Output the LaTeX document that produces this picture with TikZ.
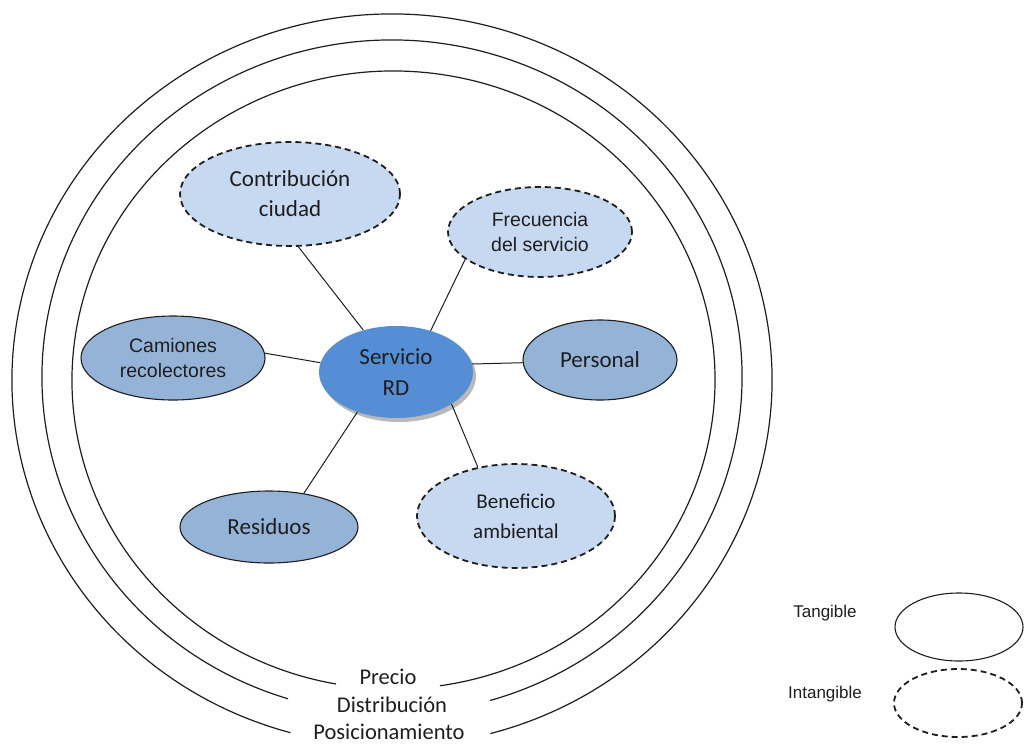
\documentclass[tikz,border=0pt]{standalone}
\usepackage{fontspec}
\setmainfont{Carlito}
\newfontfamily\arialfont{Liberation Sans}
\usetikzlibrary{shapes.geometric}

\definecolor{coreblue}{RGB}{85,142,213}
\definecolor{tanblue}{RGB}{149,179,215}
\definecolor{intblue}{RGB}{198,217,241}
\definecolor{inkgray}{RGB}{30,30,30}

\begin{document}
\begin{tikzpicture}[x=1pt,y=-1pt,
  ring/.style={line width=1.2pt, draw=inkgray},
  oval/.style={ellipse, inner sep=0pt, align=center, text=inkgray,
               font=\fontsize{23}{30}\selectfont},
  core/.style={oval, fill=coreblue, font=\fontsize{23}{31}\selectfont},
  tangible/.style={oval, draw=inkgray, line width=1.1pt, fill=tanblue},
  intangible/.style={oval, draw=inkgray, line width=1.8pt,
                     dash pattern=on 6pt off 4pt, fill=intblue},
  arialtext/.style={font=\arialfont\fontsize{19.5}{25}\selectfont},
  link/.style={line width=1pt, draw=inkgray},
  layer/.style={anchor=base, text=inkgray, font=\fontsize{22.5}{28}\selectfont},
  legendtext/.style={text=inkgray, font=\arialfont\fontsize{17}{20}\selectfont},
  legendoval/.style={ellipse, inner sep=0pt, draw=inkgray, line width=1.1pt,
                     minimum width=128pt, minimum height=68pt}
]
\useasboundingbox (0,0) rectangle (1025,745);
\clip (0,0) rectangle (1025,745);

% three open rings around the product, gaps at the bottom for the layer names
\draw[ring] (392,380) ++(105.5:380 and 366)
  arc[start angle=105.5, end angle=435, x radius=380, y radius=366];
\draw[ring] (392,377) ++(107.3:350 and 337)
  arc[start angle=107.3, end angle=433.7, x radius=350, y radius=337];
\draw[ring] (393.5,380) ++(100.3:321.5 and 309)
  arc[start angle=100.3, end angle=441.7, x radius=321.5, y radius=309];

% layer names
\node[layer] (precio) at (388,684) {Precio};
\node[layer] (distrib) at (392,712) {Distribución};
\node[layer] (posic) at (389,739) {Posicionamiento};

% core service with a soft shadow
\fill[gray!55] (399,376) ellipse [x radius=77, y radius=46];
\node[core, minimum width=154pt, minimum height=92pt] (core) at (396,372) {Servicio\\RD};

% attributes
\node[intangible, minimum width=220pt, minimum height=104pt] (contrib) at (290,194) {Contribución\\ciudad};
\node[intangible, arialtext, minimum width=184pt, minimum height=90pt] (freq) at (540,232) {Frecuencia\\del servicio};
\node[tangible, minimum width=154pt, minimum height=80pt] (pers) at (600,360) {Personal};
\node[tangible, arialtext, minimum width=184pt, minimum height=84pt] (cam) at (173,358) {Camiones\\recolectores};
\node[tangible, minimum width=178pt, minimum height=72pt] (res) at (269,527) {Residuos};
\node[intangible, font=\fontsize{21}{30}\selectfont, minimum width=198pt, minimum height=104pt] (ben) at (516,516) {Beneficio\\ambiental};

% links to the core
\draw[link] (contrib.-81) -- (core.128);
\draw[link] (freq.200) -- (core.50);
\draw[link] (pers.182) -- (core.6);
\draw[link] (cam.3) -- (core.173);
\draw[link] (res.44) -- (core.226);
\draw[link] (ben.128) -- (core.-30);

% legend
\node[legendtext] (ltan) at (825,613) {Tangible};
\node[legendoval] (ltanshape) at (959,627) {};
\node[legendtext] (lint) at (825,694) {Intangible};
\node[legendoval, line width=1.8pt, dash pattern=on 6pt off 4pt] (lintshape) at (958,703) {};
\end{tikzpicture}
\end{document}
